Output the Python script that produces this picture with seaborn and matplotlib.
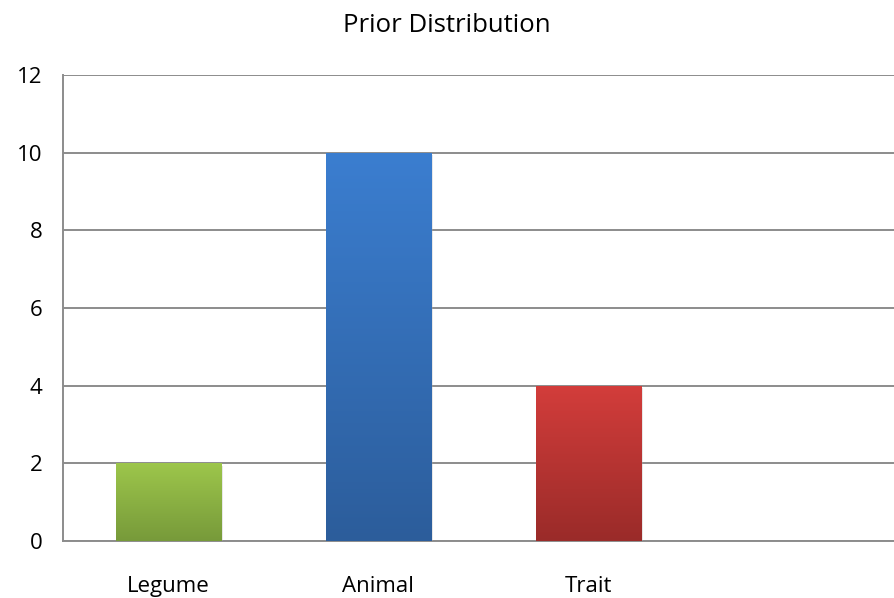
import numpy as np
import pandas as pd
import matplotlib
matplotlib.use("Agg")
import matplotlib.pyplot as plt
import matplotlib.patheffects as pe
from matplotlib.colors import LinearSegmentedColormap
import seaborn as sns

categories = ["Legume", "Animal", "Trait"]
counts = [2, 10, 4]
top_colors = ["#9DC64B", "#3B7ED0", "#D33D3B"]
bottom_colors = ["#779A3A", "#2C5D9B", "#9A2B29"]
y_ticks = [0, 2, 4, 6, 8, 10, 12]

sns.set_theme(style="white")
plt.rcParams["font.family"] = ["Open Sans", "DejaVu Sans"]

df = pd.DataFrame({"category": categories, "count": counts})

fig = plt.figure(figsize=(8.94, 5.98), dpi=100)
# the plot area runs slightly past the right edge of the canvas
ax = fig.add_axes([0.0705, 0.0953, 0.9396, 0.7793])

sns.barplot(data=df, x="category", y="count", hue="category",
            palette=top_colors, order=categories, width=0.5,
            legend=False, ax=ax, zorder=3)

# vertical gradient fill for every bar, clipped to its patch
for patch, c_top, c_bot in zip(ax.patches, top_colors, bottom_colors):
    x0, y0 = patch.get_x(), patch.get_y()
    w, h = patch.get_width(), patch.get_height()
    cmap = LinearSegmentedColormap.from_list("g", [c_bot, c_top])
    grad = np.linspace(0, 1, 256).reshape(-1, 1)
    im = ax.imshow(grad, cmap=cmap, aspect="auto", origin="lower",
                   extent=(x0, x0 + w, y0, y0 + h), zorder=3.5)
    im.set_clip_path(patch)
    patch.set_edgecolor("none")
    patch.set_path_effects([pe.SimplePatchShadow(offset=(2, -2), shadow_rgbFace="#b0b0b0", alpha=0.3),
                            pe.Normal()])

ax.set_xlim(-0.5, 3.5)
ax.set_ylim(0, 12)
ax.set_yticks(y_ticks)
ax.set_yticklabels([str(t) for t in y_ticks])
ax.grid(axis="y", color="#8c8c8c", linewidth=1.4, zorder=0)
ax.set_axisbelow(True)
ax.set_xlabel("")
ax.set_ylabel("")

for side in ["top", "right"]:
    ax.spines[side].set_visible(False)
ax.spines["left"].set_color("#8c8c8c")
ax.spines["left"].set_linewidth(1.4)
ax.spines["bottom"].set_color("#8c8c8c")
ax.spines["bottom"].set_linewidth(1.4)

ax.tick_params(axis="x", length=0, pad=25, labelsize=16, labelcolor="black")
ax.tick_params(axis="y", length=0, pad=15, labelsize=16, labelcolor="black")

fig.text(0.5, 0.958, "Prior Distribution", ha="center", va="center", fontsize=18.5, color="black")

fig.savefig("out.png", dpi=100, facecolor="white")
